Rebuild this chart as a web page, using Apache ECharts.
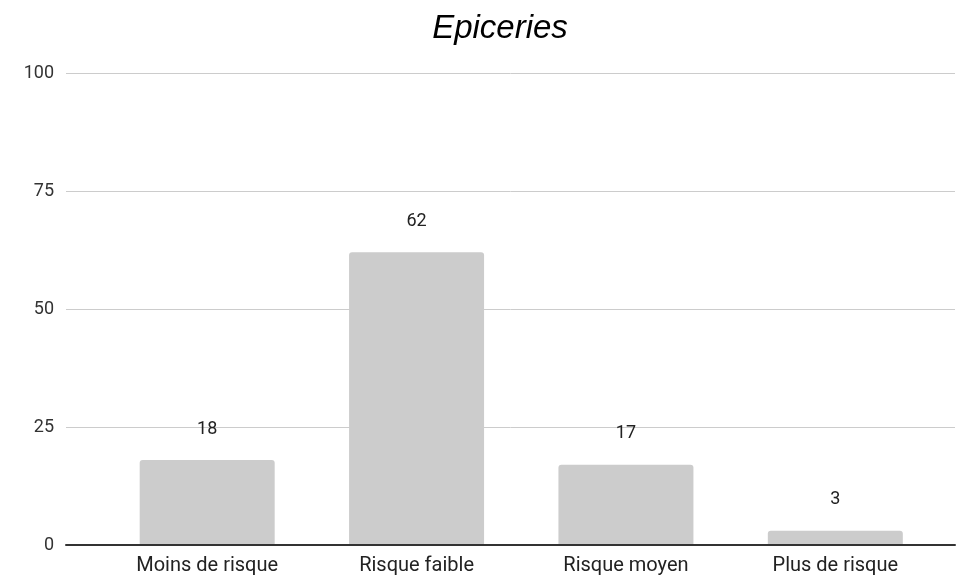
<!DOCTYPE html>
<html>
<head>
<meta charset="utf-8">
<script src="https://cdn.jsdelivr.net/npm/echarts@6/dist/echarts.min.js"></script>
<style>
  html, body { margin: 0; padding: 0; background: #fff; }
  #chart { width: 969px; height: 576px; }
</style>
</head>
<body>
<div id="chart"></div>
<script>
// Share of grocery stores by risk level
const categories = ['Moins de risque', 'Risque faible', 'Risque moyen', 'Plus de risque'];
const values = [18, 62, 17, 3];
const yTicks = { min: 0, max: 100, interval: 25 };

const chart = echarts.init(document.getElementById('chart'), null, { renderer: 'canvas' });

const option = {
  backgroundColor: '#ffffff',
  animation: false,
  title: {
    text: 'Epiceries',
    left: 495,
    top: 7,
    textAlign: 'center',
    textStyle: {
      fontFamily: 'Liberation Sans, Arial, sans-serif',
      fontStyle: 'italic',
      fontWeight: 'normal',
      fontSize: 33,
      color: '#000000'
    }
  },
  grid: [
    // full-width frame for the gridlines and the baseline
    { left: 66, right: 14, top: 73, bottom: 31, containLabel: false },
    // inner band holding the category slots
    { left: 102.5, right: 29, top: 73, bottom: 31, containLabel: false }
  ],
  xAxis: [
    {
      gridIndex: 0, type: 'value', min: 0, max: 1,
      axisLine: { show: true, lineStyle: { color: '#333333', width: 2 } },
      axisTick: { show: false }, axisLabel: { show: false }, splitLine: { show: false },
      z: 5
    },
    {
      gridIndex: 1, type: 'category', data: categories,
      axisLine: { show: false }, axisTick: { show: false }, splitLine: { show: false },
      axisLabel: {
        margin: 11,
        fontFamily: 'Roboto, sans-serif',
        fontSize: 20,
        color: '#222222'
      }
    }
  ],
  yAxis: [
    {
      gridIndex: 0, type: 'value',
      min: yTicks.min, max: yTicks.max, interval: yTicks.interval,
      axisLine: { show: false }, axisTick: { show: false },
      axisLabel: {
        margin: 12,
        fontFamily: 'Roboto, sans-serif',
        fontSize: 18,
        color: '#333333'
      },
      splitLine: { show: true, lineStyle: { color: '#cccccc', width: 1 } }
    },
    {
      gridIndex: 1, type: 'value',
      min: yTicks.min, max: yTicks.max, interval: yTicks.interval,
      show: false, splitLine: { show: false }
    }
  ],
  series: [
    {
      type: 'bar',
      xAxisIndex: 1,
      yAxisIndex: 1,
      data: values,
      barWidth: 135,
      itemStyle: { color: '#cccccc', borderRadius: [3, 3, 0, 0] },
      label: {
        show: true,
        position: 'top',
        distance: 22,
        fontFamily: 'Roboto, sans-serif',
        fontSize: 18,
        color: '#222222'
      },
      z: 2
    }
  ]
};

chart.setOption(option);
</script>
</body>
</html>
